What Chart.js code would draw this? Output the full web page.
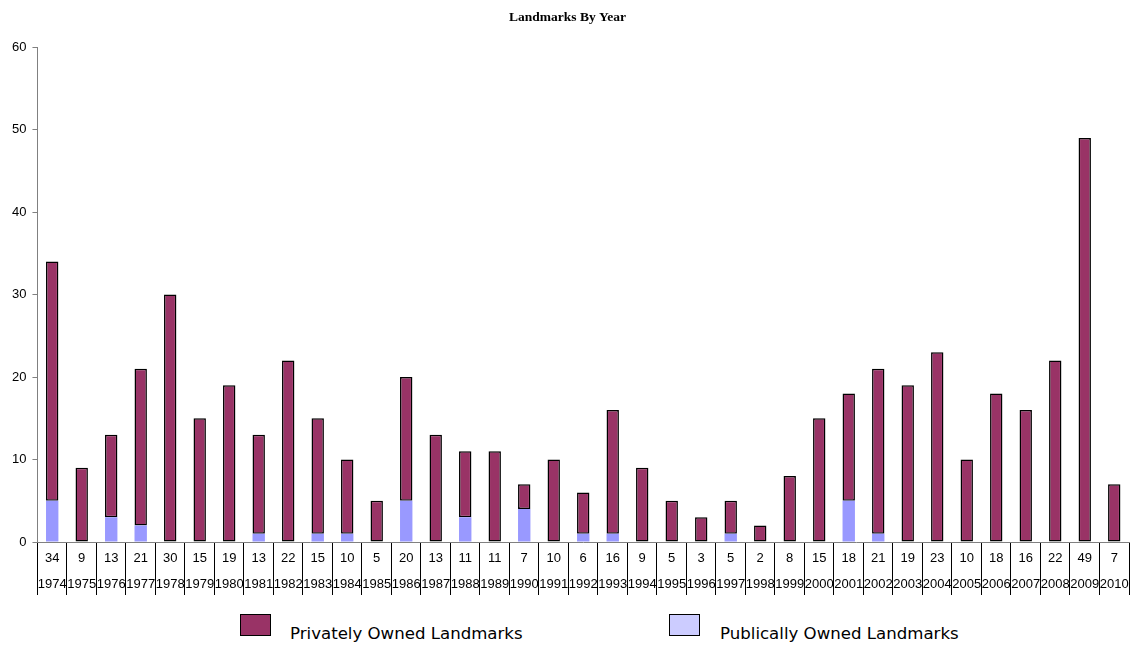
<!DOCTYPE html>
<html lang="en">
<head>
    <meta charset="UTF-8">
    <title>Landmarks By Year</title>
    <script src="https://cdn.jsdelivr.net/npm/chart.js@4.4.1/dist/chart.umd.min.js"></script>
    <style>
        body { margin: 0; background: #fff; }
        .wrap { position: relative; width: 1130px; height: 646px; }
        #myChart { position: absolute; left: 0; top: 0; }
        .key { position: absolute; top: 614px; width: 29px; height: 20px; border: 1px solid #000; }
        .key-label { position: absolute; top: 624px; font-family: "DejaVu Sans", "Liberation Sans", sans-serif; font-size: 16.6px; color: #000; }
    </style>
</head>
<body>
<div class="wrap">
    <canvas id="myChart" width="1130" height="600"></canvas>
    <div class="key" style="left:240px; background:#993366;"></div>
    <div class="key-label" style="left:290px;">Privately Owned Landmarks</div>
    <div class="key" style="left:669px; background:#ccccff;"></div>
    <div class="key-label" style="left:720px;">Publically Owned Landmarks</div>
</div>

<script>
    var years = ['1974','1975','1976','1977','1978','1979','1980','1981','1982','1983',
                 '1984','1985','1986','1987','1988','1989','1990','1991','1992','1993',
                 '1994','1995','1996','1997','1998','1999','2000','2001','2002','2003',
                 '2004','2005','2006','2007','2008','2009','2010'];

    var publicOwned = [5,0,3,2,0,0,0,1,0,1,
                       1,0,5,0,3,0,4,0,1,1,
                       0,0,0,1,0,0,0,5,1,0,
                       0,0,0,0,0,0,0];

    var privateOwned = [29,9,10,19,30,15,19,12,22,14,
                        9,5,15,13,8,11,3,10,5,15,
                        9,5,3,4,2,8,15,13,20,19,
                        23,10,18,16,22,49,7];

    // data table under the axis: totals row + year row
    var tablePlugin = {
        id: 'dataTable',
        afterDraw: function (chart) {
            var ctx = chart.ctx;
            var x = chart.scales.x;
            var base = chart.chartArea.bottom;
            ctx.save();
            ctx.fillStyle = '#000';
            ctx.font = '13px "Liberation Sans", Arial, sans-serif';
            ctx.textAlign = 'center';
            ctx.textBaseline = 'middle';
            for (var i = 0; i < years.length; i++) {
                var px = x.getPixelForValue(i);
                ctx.fillText(String(privateOwned[i] + publicOwned[i]), px, base + 16);
                ctx.fillText(years[i], px, base + 42);
            }
            ctx.restore();
        }
    };

    var ctx = document.getElementById('myChart').getContext('2d');
    var myChart = new Chart(ctx, {
        type: 'bar',
        data: {
            labels: years,
            datasets: [
                {
                    label: 'Publically Owned Landmarks',
                    data: publicOwned,
                    backgroundColor: '#9999ff',
                    borderWidth: 0
                },
                {
                    label: 'Privately Owned Landmarks',
                    data: privateOwned,
                    backgroundColor: '#993366',
                    borderColor: '#000',
                    borderWidth: 1.5
                }
            ]
        },
        options: {
            responsive: false,
            animation: false,
            layout: { padding: { left: 6, right: 1, top: 0, bottom: 5 } },
            datasets: { bar: { categoryPercentage: 1, barPercentage: 0.42, borderSkipped: false } },
            plugins: {
                legend: { display: false },
                tooltip: { enabled: false },
                title: {
                    display: true,
                    text: 'Landmarks By Year',
                    color: '#000',
                    font: { family: '"Liberation Serif", "Times New Roman", serif', size: 13.5, weight: 'bold' },
                    padding: { top: 9, bottom: 22 }
                }
            },
            scales: {
                x: {
                    stacked: true,
                    offset: true,
                    border: { color: '#808080', width: 1 },
                    grid: { offset: true, drawOnChartArea: false, drawTicks: true, tickLength: 53, color: '#000' },
                    ticks: { display: false }
                },
                y: {
                    stacked: true,
                    min: 0,
                    max: 60,
                    border: { color: '#808080', width: 1 },
                    grid: { drawOnChartArea: false, drawTicks: true, tickLength: 5, color: '#808080' },
                    ticks: {
                        stepSize: 10,
                        padding: 6,
                        color: '#000',
                        font: { family: '"Liberation Sans", Arial, sans-serif', size: 13 }
                    }
                }
            }
        },
        plugins: [tablePlugin]
    });
</script>
</body>
</html>
